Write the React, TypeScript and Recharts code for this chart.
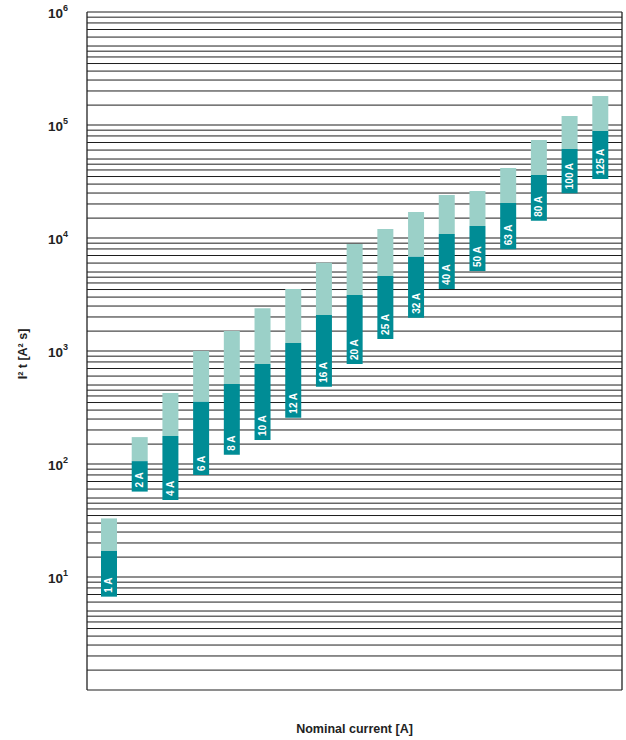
import React from 'react';
import { BarChart, Bar, XAxis, YAxis, ReferenceLine, LabelList, Label } from 'recharts';

const categories = ['1 A', '2 A', '4 A', '6 A', '8 A', '10 A', '12 A', '16 A', '20 A', '25 A', '32 A', '40 A', '50 A', '63 A', '80 A', '100 A', '125 A'];
const minValues = [6.7, 57, 48, 80, 121, 163, 257, 483, 767, 1280, 1970, 3540, 5100, 7940, 14200, 24900, 33300];
const midValues = [17, 106, 177, 356, 511, 767, 1180, 2080, 3130, 4610, 6830, 10850, 12770, 20400, 36100, 61400, 88500];
const maxValues = [33, 173, 425, 1000, 1500, 2390, 3540, 6050, 8850, 12000, 17000, 24000, 26100, 41600, 73700, 120000, 180600];
const decadeTicks = [10, 100, 1000, 10000, 100000, 1000000];
const gridMantissas = [1, 1.5, 2, 2.5, 3, 3.5, 4, 4.5, 5, 6, 7, 8, 9];

const gridValues: number[] = [];
for (let e = 0; e < 6; e++) {
  for (const m of gridMantissas) gridValues.push(m * Math.pow(10, e));
}
gridValues.push(1000000);

const data = categories.map((c, i) => ({
  name: c,
  dark: [minValues[i], midValues[i]],
  light: [midValues[i], maxValues[i]],
}));

const FONT = '"Liberation Sans", Arial, Helvetica, sans-serif';
const DARK = '#008C95';
const LIGHT = '#9BD0C8';

const YTick = (props: any) => {
  const { x, y, payload } = props;
  const exp = Math.round(Math.log10(payload.value));
  return (
    <text x={x - 11} y={y + 1} textAnchor="end" dominantBaseline="central" fontFamily={FONT} fontSize={13.5} fontWeight="bold" fill="#222">
      10
      <tspan dy={-5} fontSize={9}>{exp}</tspan>
    </text>
  );
};

const BarLabel = (props: any) => {
  const { x, y, width, height, value } = props;
  const bottom = Math.max(y, y + height);
  const cx = x + width / 2;
  const by = bottom - 4;
  return (
    <text
      x={cx}
      y={by}
      transform={`rotate(-90 ${cx} ${by})`}
      textAnchor="start"
      dominantBaseline="central"
      fontFamily={FONT}
      fontSize={10}
      fontWeight="bold"
      fill="#ffffff"
    >
      {value}
    </text>
  );
};

export default function App() {
  return (
    <div style={{ position: 'absolute', left: 0, top: 0, width: 626, height: 740, background: '#fff' }}>
      <BarChart width={626} height={740} data={data} margin={{ top: 12, right: 0, bottom: 0, left: 0 }}>
        <XAxis
          xAxisId="a"
          dataKey="name"
          height={50}
          tick={false}
          tickLine={false}
          axisLine={false}
          padding={{ left: 7, right: 6 }}
        >
          <Label
            content={() => (
              <text x={354.5} y={729} textAnchor="middle" dominantBaseline="central" fontFamily={FONT} fontSize={12.5} fontWeight="bold" fill="#222">
                Nominal current [A]
              </text>
            )}
          />
        </XAxis>
        <XAxis xAxisId="b" dataKey="name" hide padding={{ left: 7, right: 6 }} />
        <YAxis
          yAxisId="l"
          scale="log"
          domain={[1, 1000000]}
          ticks={decadeTicks}
          allowDataOverflow
          width={87}
          tick={<YTick />}
          tickLine={false}
          axisLine={{ stroke: '#222', strokeWidth: 1.3 }}
        >
          <Label
            content={() => (
              <text x={23} y={354} transform="rotate(-90 23 354)" textAnchor="middle" dominantBaseline="central" fontFamily={FONT} fontSize={12.5} fontWeight="bold" fill="#222">
                I² t [A² s]
              </text>
            )}
          />
        </YAxis>
        <YAxis
          yAxisId="r"
          orientation="right"
          scale="log"
          domain={[1, 1000000]}
          allowDataOverflow
          width={4}
          tick={false}
          tickLine={false}
          axisLine={{ stroke: '#222', strokeWidth: 1.3 }}
        />
        {gridValues.map((v) => (
          <ReferenceLine
            key={v}
            xAxisId="a"
            yAxisId="l"
            y={v}
            stroke="#1e1e1e"
            strokeWidth={1}
            ifOverflow="visible"
            zIndex={-100}
          />
        ))}
        <Bar xAxisId="b" yAxisId="l" dataKey="light" fill={LIGHT} barSize={16} isAnimationActive={false} />
        <Bar xAxisId="a" yAxisId="l" dataKey="dark" fill={DARK} barSize={16} isAnimationActive={false}>
          <LabelList dataKey="name" content={<BarLabel />} />
        </Bar>
      </BarChart>
    </div>
  );
}
